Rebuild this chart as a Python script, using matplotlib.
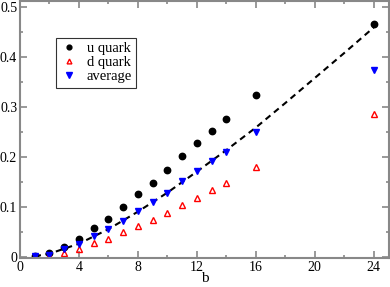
import matplotlib.pyplot as plt
from matplotlib.ticker import MultipleLocator

plt.rcParams['font.family'] = ['Liberation Serif', 'DejaVu Serif']

# data
b = [1, 2, 3, 4, 5, 6, 7, 8, 9, 10, 11, 12, 13, 14, 16, 24]
u_quark = [0.002, 0.008, 0.020, 0.035, 0.057, 0.075, 0.099, 0.125, 0.147,
           0.174, 0.201, 0.227, 0.251, 0.275, 0.324, 0.465]
d_quark = [0.000, 0.002, 0.007, 0.016, 0.028, 0.036, 0.049, 0.061, 0.073,
           0.087, 0.104, 0.118, 0.133, 0.147, 0.179, 0.285]
average = [0.001, 0.004, 0.015, 0.025, 0.041, 0.055, 0.072, 0.092, 0.109,
           0.128, 0.151, 0.172, 0.191, 0.209, 0.250, 0.373]

# dashed fit curve
fit_b = [1, 2, 4, 6, 8, 10, 12, 14, 16, 18, 20, 22, 24]
fit_y = [0.001, 0.006, 0.026, 0.055, 0.090, 0.128, 0.170, 0.213, 0.258,
         0.307, 0.357, 0.407, 0.458]

fig = plt.figure(figsize=(3.9, 2.87), dpi=100)
ax = fig.add_axes([0.0513, 0.101, 0.9457, 0.8955])

ax.plot(fit_b, fit_y, '--', color='black', lw=1.5, dashes=(3, 2.2), zorder=1)
ax.plot(b, u_quark, 'o', color='black', ms=4.6, ls='none', label='u quark')
ax.plot(b, d_quark, '^', mec='red', mfc='none', mew=1.0, ms=4.6, ls='none',
        label='d quark')
ax.plot(b, average, 'v', color='blue', ms=5, ls='none', label='average')

ax.set_xlim(0, 25.03)
ax.set_ylim(-0.0026, 0.511)
ax.xaxis.set_major_locator(MultipleLocator(4))
ax.xaxis.set_minor_locator(MultipleLocator(2))
ax.yaxis.set_minor_locator(MultipleLocator(0.05))
ax.set_yticks([0, 0.1, 0.2, 0.3, 0.4, 0.5])
ax.set_yticklabels(['0', '0.1', '0.2', '0.3', '0.4', '0.5'])

spine_col = '#888888'
for s in ax.spines.values():
    s.set_color(spine_col)
    s.set_linewidth(1.5)
ax.tick_params(which='both', direction='in', top=True, right=True,
               color=spine_col, labelsize=10, pad=2)
ax.tick_params(which='major', length=5, width=1.2)
ax.tick_params(which='minor', length=2.5, width=1.2)
ax.set_xlabel('b', fontsize=11, labelpad=-1)

leg = ax.legend(loc='upper left', bbox_to_anchor=(0.0976, 0.857),
                borderaxespad=0, fontsize=10.5, frameon=True, fancybox=False,
                handlelength=1.2, handletextpad=0.6, labelspacing=0.05,
                borderpad=0.3, markerscale=0.75)
leg.get_frame().set_edgecolor('black')
leg.get_frame().set_linewidth(0.8)

fig.savefig('out.png', dpi=100)
